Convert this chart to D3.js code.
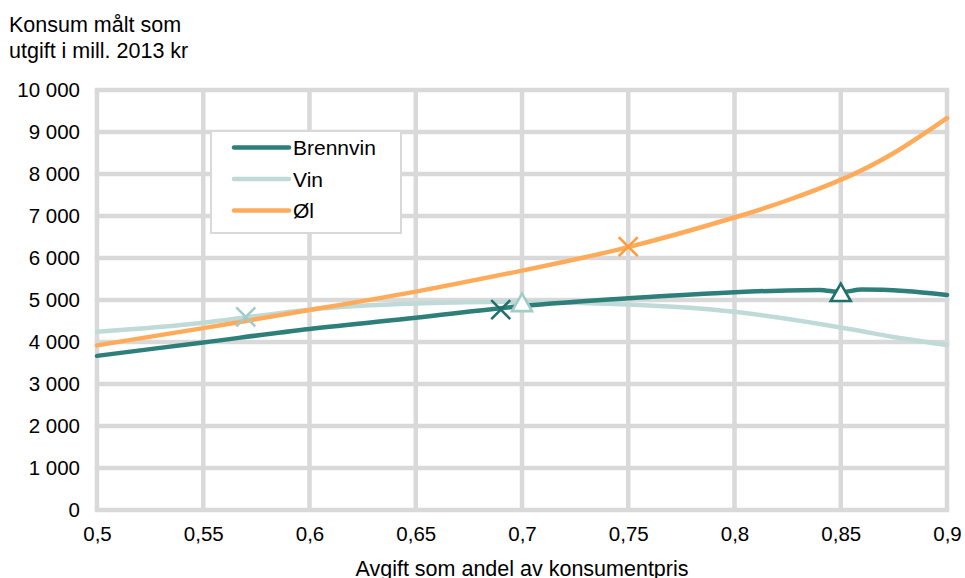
<!DOCTYPE html>
<html>
<head>
<meta charset="utf-8">
<script src="https://cdn.jsdelivr.net/npm/d3@7/dist/d3.min.js"></script>
<style>
  html, body { margin: 0; padding: 0; background: #fff; }
  svg { display: block; }
  text { font-family: "Liberation Sans", Arial, sans-serif; fill: #000; }
</style>
</head>
<body>
<svg id="chart" width="965" height="578"></svg>
<script>
// Tick labels
const xTicks = [0.5, 0.55, 0.6, 0.65, 0.7, 0.75, 0.8, 0.85, 0.9];
const yTicks = [0, 1000, 2000, 3000, 4000, 5000, 6000, 7000, 8000, 9000, 10000];

// Consumption (mill. 2013 kr) against tax share of consumer price
const brennvinX = [0.5, 0.55, 0.6, 0.65, 0.7, 0.75, 0.8, 0.84, 0.85, 0.86, 0.88, 0.9];
const brennvinY = [3670, 3990, 4310, 4580, 4855, 5040, 5185, 5240, 5185, 5250, 5215, 5120];

const vinX = [0.5, 0.55, 0.6, 0.65, 0.7, 0.75, 0.8, 0.85, 0.875, 0.9];
const vinY = [4245, 4460, 4770, 4915, 4955, 4895, 4720, 4345, 4120, 3930];

const olX = [0.5, 0.55, 0.6, 0.65, 0.7, 0.75, 0.8, 0.825, 0.85, 0.875, 0.9];
const olY = [3920, 4330, 4760, 5200, 5700, 6260, 6965, 7375, 7860, 8500, 9330];

// Marked points per series: cross and triangle
const brennvinMarks = [{ x: 0.69, y: 4770, shape: "x" }, { x: 0.85, y: 5190, shape: "tri" }];
const vinMarks = [{ x: 0.57, y: 4600, shape: "x" }, { x: 0.7, y: 4950, shape: "tri" }];
const olMarks = [{ x: 0.75, y: 6270, shape: "x" }];

const seriesNames = ["Brennvin", "Vin", "Øl"];

const colors = {
  Brennvin: "#2e7f7a",
  Vin: "#bfdad7",
  "Øl": "#ffab5a"
};
const markColors = {
  Brennvin: "#216f6a",
  Vin: "#a3cbc7",
  "Øl": "#ff9d3d"
};
const curves = {
  Brennvin: d3.curveMonotoneX,
  Vin: d3.curveNatural,
  "Øl": d3.curveNatural
};

const svg = d3.select("#chart");

const x = d3.scaleLinear().domain([0.5, 0.9]).range([97, 947]);
const y = d3.scaleLinear().domain([0, 10000]).range([510, 90]);

const fmtX = d => String(d).replace(".", ",");
const fmtY = d => d3.format(",")(d).replace(/,/g, " ");
const FONT = "'Liberation Sans', Arial, sans-serif";

// Gridlines
const grid = svg.append("g").attr("stroke", "#d9d9d9").attr("stroke-width", 4.5);
grid.selectAll("line.h").data(yTicks).join("line")
  .attr("class", "h")
  .attr("x1", x(0.5) - 2.25).attr("x2", x(0.9) + 2.25)
  .attr("y1", d => y(d)).attr("y2", d => y(d));
grid.selectAll("line.v").data(xTicks).join("line")
  .attr("class", "v")
  .attr("x1", d => x(d)).attr("x2", d => x(d))
  .attr("y1", y(10000)).attr("y2", y(0));

// Axes (labels only, lines hidden)
const yAxis = svg.append("g")
  .attr("transform", `translate(${x(0.5) - 17},0)`)
  .call(d3.axisLeft(y).tickValues(yTicks).tickFormat(fmtY).tickSize(0).tickPadding(0));
yAxis.select(".domain").remove();
yAxis.selectAll("text").style("font-size", "20.5px").style("font-family", FONT).attr("fill", "#000");

const xAxis = svg.append("g")
  .attr("transform", `translate(0,${y(0) + 16})`)
  .call(d3.axisBottom(x).tickValues(xTicks).tickFormat(fmtX).tickSize(0).tickPadding(0));
xAxis.select(".domain").remove();
xAxis.selectAll("text").style("font-size", "20.5px").style("font-family", FONT).attr("fill", "#000");

// Series lines
const seriesData = {
  Brennvin: d3.zip(brennvinX, brennvinY),
  Vin: d3.zip(vinX, vinY),
  "Øl": d3.zip(olX, olY)
};
const drawOrder = ["Vin", "Brennvin", "Øl"];
svg.append("g").selectAll("path").data(drawOrder).join("path")
  .attr("d", k => d3.line().x(d => x(d[0])).y(d => y(d[1])).curve(curves[k])(seriesData[k]))
  .attr("fill", "none")
  .attr("stroke", k => colors[k])
  .attr("stroke-width", 4.5)
  .attr("stroke-linejoin", "round")
  .attr("stroke-linecap", "round");

// Markers
const marks = [
  ...brennvinMarks.map(m => ({ ...m, s: "Brennvin" })),
  ...vinMarks.map(m => ({ ...m, s: "Vin" })),
  ...olMarks.map(m => ({ ...m, s: "Øl" }))
];
const mg = svg.append("g");
marks.forEach(m => {
  const g = mg.append("g").attr("transform", `translate(${x(m.x)},${y(m.y)})`);
  const c = markColors[m.s];
  if (m.shape === "x") {
    const r = 9.5;
    g.append("path")
      .attr("d", `M${-r},${-r}L${r},${r}M${-r},${r}L${r},${-r}`)
      .attr("stroke", c).attr("stroke-width", 2.6).attr("fill", "none");
  } else {
    g.append("path")
      .attr("d", "M0,-8.5L10,9L-10,9Z")
      .attr("stroke", c).attr("stroke-width", 2.6).attr("fill", "#fff")
      .attr("stroke-linejoin", "miter");
  }
});

// Legend
const lg = svg.append("g");
lg.append("rect")
  .attr("x", 211).attr("y", 131).attr("width", 190).attr("height", 102)
  .attr("fill", "#fff").attr("stroke", "#d9d9d9").attr("stroke-width", 2);
seriesNames.forEach((k, i) => {
  const ly = 147.5 + i * 31.5;
  lg.append("line")
    .attr("x1", 234).attr("x2", 289).attr("y1", ly).attr("y2", ly)
    .attr("stroke", colors[k]).attr("stroke-width", 4.5).attr("stroke-linecap", "round");
  lg.append("text")
    .attr("x", 293).attr("y", ly + 7.5)
    .style("font-size", "21px")
    .text(k);
});

// Titles
svg.append("text").attr("x", 9).attr("y", 32).style("font-size", "21.5px").text("Konsum målt som");
svg.append("text").attr("x", 9).attr("y", 58).style("font-size", "21.5px").text("utgift i mill. 2013 kr");
svg.append("text").attr("x", (x(0.5) + x(0.9)) / 2).attr("y", 576)
  .attr("text-anchor", "middle").style("font-size", "21.5px")
  .text("Avgift som andel av konsumentpris");
</script>
</body>
</html>
